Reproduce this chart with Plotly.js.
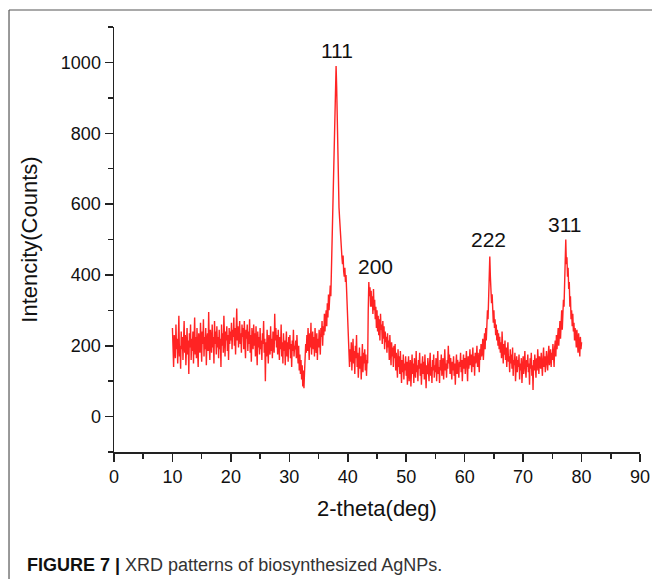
<!DOCTYPE html>
<html>
<head>
<meta charset="utf-8">
<script src="https://cdn.plot.ly/plotly-3.0.1.min.js"></script>
<style>
html,body{margin:0;padding:0;background:#fff;}
#chart{width:652px;height:579px;}
</style>
</head>
<body>
<div id="chart"></div>
<script>
// 2-theta sampling (degrees)
const thetaStart = 10;
const thetaStep = 0.1;

// Intensity (counts), one row per degree from 10.0 to 80.0
const intensity = [
  250,180,140,230,205,165,260,190,220,150,
  215,285,170,200,135,240,190,225,160,210,
  270,180,230,145,205,250,175,215,120,235,
  195,260,160,220,185,240,150,205,280,175,
  225,165,250,195,140,235,210,180,265,190,
  155,240,205,275,170,225,190,250,145,215,
  235,185,295,200,160,245,215,180,260,195,
  225,150,270,205,240,175,255,195,225,165,
  245,190,220,140,260,200,235,180,285,210,
  170,240,215,255,185,230,160,250,205,240,
  215,265,190,245,225,280,200,250,175,240,
  305,215,255,195,240,270,205,235,180,260,
  225,250,190,270,210,165,245,220,260,185,
  240,205,275,180,230,155,250,210,190,260,
  200,235,170,255,215,145,240,195,225,175,
  250,190,215,160,235,205,270,180,220,100,
  210,170,245,190,150,230,205,175,255,185,
  220,165,240,200,180,290,215,250,195,230,
  175,245,205,160,225,190,260,170,210,150,
  235,185,215,145,200,240,170,210,155,225,
  190,230,165,205,140,215,185,245,170,200,
  190,215,165,230,185,150,200,130,175,120,
  160,105,145,85,130,80,125,170,205,180,
  230,185,250,210,160,235,195,265,175,215,
  240,190,225,170,250,205,180,235,160,220,
  195,245,210,175,250,225,270,200,255,230,
  290,240,275,300,255,320,280,345,300,330,
  370,340,420,470,560,640,700,780,860,900,
  990,930,820,720,650,590,560,520,480,470,
  450,430,455,410,395,420,380,400,360,320,
  270,200,175,140,190,155,210,130,175,220,
  150,185,120,200,165,230,140,180,110,170,
  195,135,170,105,160,205,125,180,150,190,
  130,175,115,160,150,300,380,340,365,310,
  355,310,340,290,360,300,330,275,310,250,
  300,240,285,230,275,215,290,245,260,205,
  270,220,255,190,240,210,225,180,235,195,
  215,160,230,185,145,210,170,195,140,200,
  165,205,130,180,150,110,190,140,170,120,
  185,140,95,160,125,175,105,150,130,170,
  115,155,90,140,170,100,135,160,85,145,
  175,120,150,95,165,130,110,185,125,145,
  100,160,135,180,115,150,90,140,170,120,
  155,105,175,130,80,145,120,165,135,100,
  150,180,115,140,95,160,130,175,110,145,
  125,165,100,150,185,120,140,95,160,130,
  175,115,145,165,105,155,190,130,150,110,
  160,135,200,150,175,120,165,140,105,155,
  130,170,115,150,90,145,175,120,160,135,
  110,155,140,180,125,160,100,145,175,135,
  165,120,150,185,140,100,170,135,155,190,
  145,175,125,160,195,140,170,115,180,150,
  165,200,140,180,155,125,190,160,205,170,
  185,220,160,200,235,190,250,215,270,300,
  275,320,350,452,395,370,320,345,290,265,
  300,250,275,230,260,215,245,200,235,190,
  225,180,210,165,240,190,150,205,175,215,
  160,195,140,180,210,155,170,125,190,150,
  175,135,195,115,160,145,180,100,155,170,
  125,160,140,175,105,150,130,165,95,145,
  170,120,155,185,130,110,160,140,175,125,
  150,90,165,135,180,115,145,75,160,130,
  175,140,110,165,130,190,145,120,170,150,
  135,180,155,115,165,195,140,170,125,160,
  185,150,130,175,200,145,165,190,140,180,
  160,205,175,140,195,215,170,230,190,210,
  250,200,235,270,220,260,300,245,290,330,
  310,370,440,500,430,450,395,420,360,380,
  310,340,275,300,255,290,240,265,215,250,
  230,195,245,210,180,235,200,170,225,190,
  210
];

// Peak labels (Miller indices) and their positions
const peakLabels = ["111", "200", "222", "311"];
const peakLabelX = [38.2, 44.8, 64.0, 77.0];
const peakLabelY = [1033, 425, 499, 542];

const xTitle = "2-theta(deg)";
const yTitle = "Intencity(Counts)";
const caption = "<b>FIGURE 7 |</b> <span style=\"color:#333\">XRD patterns of biosynthesized AgNPs.</span>";

const FONT = "Liberation Sans, Arial, sans-serif";

const trace = {
  type: "scatter",
  mode: "lines",
  x0: thetaStart,
  dx: thetaStep,
  y: intensity,
  line: {color: "rgb(255,35,35)", width: 1.4},
  hoverinfo: "skip"
};

const annotations = peakLabels.map((t, i) => ({
  x: peakLabelX[i], y: peakLabelY[i], xref: "x", yref: "y",
  text: t, showarrow: false,
  font: {family: FONT, size: 21, color: "#111"}
}));

annotations.push({
  x: -0.169, y: -0.266, xref: "paper", yref: "paper",
  xanchor: "left", yanchor: "middle",
  text: caption, showarrow: false,
  font: {family: FONT, size: 18, color: "#111"}
});

const axisCommon = {
  showline: true, linecolor: "#222", linewidth: 1.5,
  showgrid: false, zeroline: false,
  ticks: "outside", ticklen: 8, tickwidth: 1.5, tickcolor: "#222",
  tickfont: {family: FONT, size: 18, color: "#111"},
  mirror: false
};

const layout = {
  width: 652, height: 579,
  margin: {l: 114, r: 12, t: 27, b: 127},
  paper_bgcolor: "#fff", plot_bgcolor: "#fff",
  showlegend: false,
  xaxis: Object.assign({}, axisCommon, {
    range: [0, 90], dtick: 10, tick0: 0,
    minor: {ticks: "outside", dtick: 5, ticklen: 5, tickwidth: 1.5, tickcolor: "#222"},
    title: {text: xTitle, font: {family: FONT, size: 22, color: "#111"}, standoff: 14}
  }),
  yaxis: Object.assign({}, axisCommon, {
    range: [-100, 1100], dtick: 200, tick0: 0,
    minor: {ticks: "outside", dtick: 100, ticklen: 5, tickwidth: 1.5, tickcolor: "#222"},
    title: {text: yTitle, font: {family: FONT, size: 22, color: "#111"}, standoff: 17}
  }),
  annotations: annotations,
  shapes: [
    {type: "line", xref: "paper", yref: "paper", x0: -0.1996, x1: 1.03, y0: 1.04, y1: 1.04,
     line: {color: "#555", width: 1.2}},
    {type: "line", xref: "paper", yref: "paper", x0: -0.1996, x1: -0.1996, y0: 1.04, y1: -0.31,
     line: {color: "#555", width: 1.2}}
  ]
};

Plotly.newPlot("chart", [trace], layout, {displayModeBar: false, staticPlot: true});
</script>
</body>
</html>
